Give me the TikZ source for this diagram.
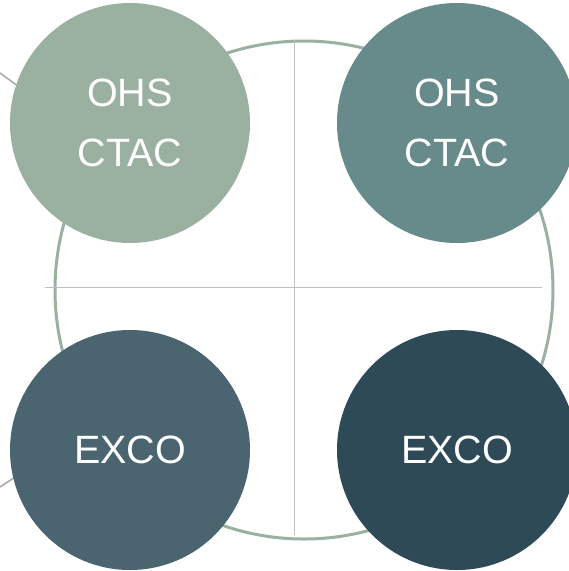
\documentclass[tikz,border=0pt]{standalone}
\usepackage{fontspec}
\setmainfont{Liberation Sans}
\usetikzlibrary{calc}
\definecolor{sage}{HTML}{9AB1A1}
\definecolor{teal}{HTML}{678A8A}
\definecolor{slate}{HTML}{4A6570}
\definecolor{navy}{HTML}{2E4A57}
\definecolor{guide}{HTML}{BFBFBF}
\definecolor{spoke}{HTML}{A6A6A6}
\begin{document}
\begin{tikzpicture}[x=1pt,y=-1pt,
  quad/.style={circle,minimum size=240pt,inner sep=0pt,text=white,
    font=\fontsize{39.5}{60}\selectfont,align=center},
  guideline/.style={draw=guide,line width=1pt},
  spokeline/.style={draw=spoke,line width=1.5pt}]
\useasboundingbox (0,0) rectangle (569,571);
\clip (0,0) rectangle (569,571);
% spokes leaving the centre towards the left corners
\coordinate (hub) at (298,290);
\coordinate (spokeA) at (0,73);
\coordinate (spokeB) at (0,487);
\draw[spokeline] (spokeA) -- ($(spokeA)!0.15!(hub)$);
\draw[spokeline] (spokeB) -- ($(spokeB)!0.15!(hub)$);
% outer ring
\node[circle,draw=sage,line width=3pt,minimum size=498pt,inner sep=0pt] (ring) at (304,290) {};
% quadrant cross
\coordinate (hl) at (45,287);
\coordinate (hr) at (542,287);
\coordinate (vt) at (294,40);
\coordinate (vb) at (294,535);
\draw[guideline] (hl) -- (hr);
\draw[guideline] (vt) -- (vb);
% quadrant discs
\node[quad,fill=sage] (tl) at (130,123) {OHS\\CTAC};
\node[quad,fill=teal] (tr) at (457,123) {OHS\\CTAC};
\node[quad,fill=slate] (bl) at (130,450) {EXCO};
\node[quad,fill=navy] (br) at (457,450) {EXCO};
\end{tikzpicture}
\end{document}
